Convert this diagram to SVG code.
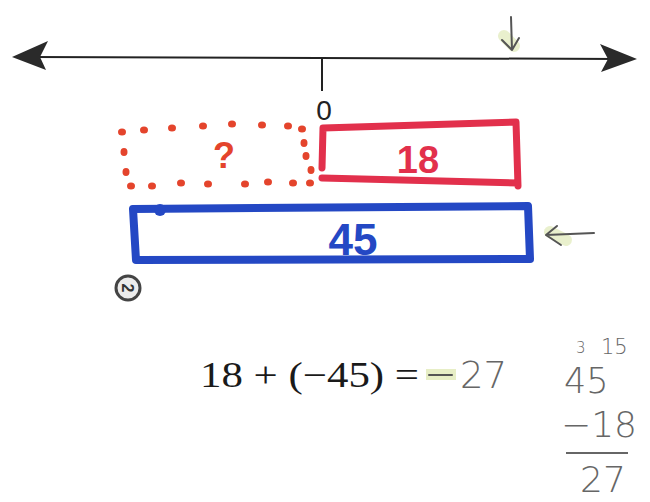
<svg xmlns="http://www.w3.org/2000/svg" width="650" height="502" viewBox="0 0 650 502">
<defs>
<style>
.axis{stroke:#222;stroke-width:2;fill:none}
.hl{stroke:#e4ecc0;stroke-width:12;stroke-linecap:round;fill:none;opacity:0.8}
.pen{stroke:#555;stroke-width:2;fill:none;stroke-linecap:round;stroke-linejoin:round}
.red{stroke:#e2304c;stroke-width:7;fill:none;stroke-linejoin:round;stroke-linecap:round}
.blue{stroke:#2448c4;stroke-width:8;fill:none;stroke-linejoin:round;stroke-linecap:round}
.dot{fill:#e4442c}
.hand{font-family:"DejaVu Sans","Liberation Sans",sans-serif;fill:#666;font-weight:200}
.marker{font-family:"Liberation Sans",Arial,sans-serif;font-weight:bold}
</style>
</defs>
<rect width="650" height="502" fill="#ffffff"/>

<g id="number-line">
<line class="axis" x1="30" y1="57" x2="620" y2="59"/>
<path d="M12,57 L48,41 L40,57 L46,70 Z" fill="#2a2a2a"/>
<path d="M637,59 L600,44 L608,59 L601,72 Z" fill="#2a2a2a"/>
<line class="axis" x1="322" y1="58" x2="322" y2="91"/>
<text x="324" y="120" font-family="Liberation Sans,Arial,sans-serif" font-size="28" text-anchor="middle" fill="#222">0</text>
</g>

<g id="marker-down">
<path class="hl" d="M504,36 L514,46"/>
<path class="pen" d="M511,17 L512,50 M502,40 L512,50 L519,38"/>
</g>

<g id="unknown-box">
<g class="dot">
<ellipse cx="122" cy="132" rx="4" ry="3.5"/><ellipse cx="144" cy="130" rx="4" ry="3.5"/><ellipse cx="172" cy="128" rx="4" ry="3.5"/><ellipse cx="203" cy="126" rx="4" ry="3.5"/><ellipse cx="232" cy="124" rx="4" ry="3.5"/><ellipse cx="262" cy="125" rx="4" ry="3.5"/><ellipse cx="288" cy="126" rx="4" ry="3.5"/><ellipse cx="302" cy="129" rx="4" ry="3.5"/>
<ellipse cx="304" cy="143" rx="3.5" ry="4"/><ellipse cx="306" cy="156" rx="3.5" ry="4"/><ellipse cx="311" cy="170" rx="3.5" ry="4"/><ellipse cx="310" cy="183" rx="4" ry="3.5"/>
<ellipse cx="124" cy="152" rx="3.5" ry="4"/><ellipse cx="126" cy="172" rx="3.5" ry="4"/>
<ellipse cx="131" cy="186" rx="4" ry="3.5"/><ellipse cx="152" cy="186" rx="4" ry="3.5"/><ellipse cx="181" cy="183" rx="4" ry="3.5"/><ellipse cx="208" cy="184" rx="4" ry="3.5"/><ellipse cx="245" cy="184" rx="4" ry="3.5"/><ellipse cx="268" cy="182" rx="4" ry="3.5"/><ellipse cx="293" cy="183" rx="4" ry="3.5"/>
</g>
<text x="224" y="168" font-family="Liberation Sans,Arial,sans-serif" font-size="36" font-weight="bold" text-anchor="middle" fill="#e4442c">?</text>
</g>

<g id="bar-18">
<path class="red" d="M323,128 L516,122 L518,186 M322,178 L517,183 M323,128 L322,168"/>
<text class="marker" x="418" y="173" font-size="38" text-anchor="middle" fill="#e2304c">18</text>
</g>

<g id="bar-45">
<path class="blue" d="M133,209 L528,206 L530,259 L136,260 Z"/>
<circle cx="160" cy="210" r="6" fill="#2448c4"/>
<text class="marker" x="353" y="255" font-size="44" text-anchor="middle" fill="#2448c4">45</text>
</g>

<g id="marker-left">
<path class="hl" d="M550,232 L566,240"/>
<path class="pen" d="M546,235 L594,233 M557,226 L546,235 L561,245"/>
</g>

<g id="circled-2">
<circle cx="128" cy="288" r="12" fill="#ececec" stroke="#444" stroke-width="3"/>
<text x="128" y="294" font-family="Liberation Sans,Arial,sans-serif" font-size="16" font-weight="bold" text-anchor="middle" fill="#333" transform="rotate(90 128 288)">2</text>
</g>

<g id="equation">
<text x="200" y="387" font-family="Liberation Serif,'Times New Roman',serif" font-size="35" fill="#1a1a1a" textLength="219" lengthAdjust="spacingAndGlyphs">18 + (−45) =</text>
<rect x="426" y="369" width="30" height="11" fill="#e4ecc0" opacity="0.9"/>
<path class="pen" d="M429,375 L452,375"/>
<text class="hand" x="460" y="388" font-size="37">27</text>
</g>

<g id="work">
<text class="hand" x="576" y="353" font-size="15">3</text>
<text class="hand" x="601" y="354" font-size="21">15</text>
<text class="hand" x="564" y="393" font-size="35">45</text>
<text class="hand" x="561" y="437" font-size="36">−18</text>
<path d="M566,453 L628,453" stroke="#666" stroke-width="2"/>
<text class="hand" x="580" y="492" font-size="36">27</text>
</g>
</svg>
